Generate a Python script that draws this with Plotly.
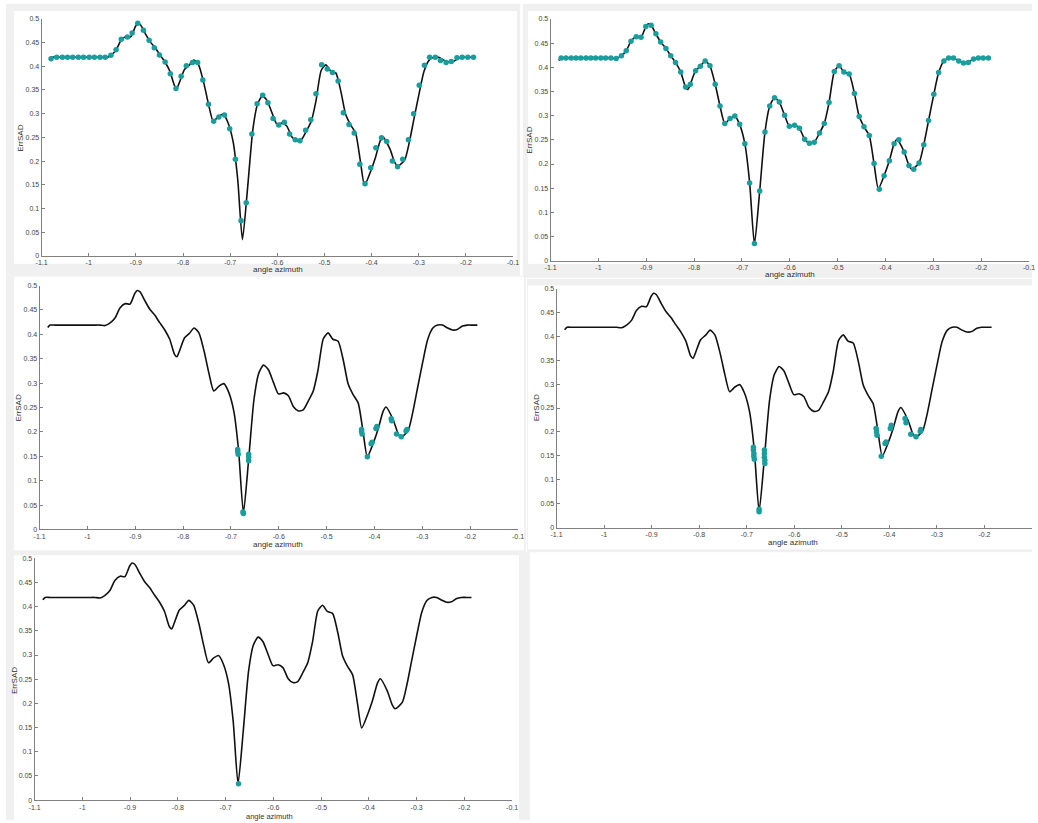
import plotly.graph_objects as go

W, H = 1038, 823

# ErrSAD curve vs angle azimuth
curve_x = [-1.083, -1.078, -1.068, -1.057, -1.047, -1.037, -1.026, -1.016, -1.006, -0.995,
           -0.985, -0.974, -0.963, -0.952, -0.942, -0.932, -0.921, -0.911, -0.901, -0.896,
           -0.890, -0.880, -0.870, -0.859, -0.849, -0.839, -0.828, -0.818, -0.813, -0.808,
           -0.797, -0.787, -0.777, -0.767, -0.756, -0.746, -0.736, -0.725, -0.715, -0.705,
           -0.694, -0.684, -0.674, -0.663, -0.652, -0.642, -0.632, -0.622, -0.611, -0.601,
           -0.590, -0.580, -0.569, -0.559, -0.549, -0.538, -0.528, -0.518, -0.507, -0.497,
           -0.487, -0.476, -0.465, -0.455, -0.445, -0.434, -0.424, -0.415, -0.403, -0.392,
           -0.382, -0.376, -0.361, -0.351, -0.345, -0.330, -0.320, -0.310, -0.299, -0.289,
           -0.278, -0.268, -0.258, -0.247, -0.237, -0.227, -0.216, -0.206, -0.196, -0.185]
curve_y = [0.414, 0.419, 0.419, 0.419, 0.419, 0.419, 0.419, 0.419, 0.419, 0.419,
           0.419, 0.419, 0.418, 0.424, 0.434, 0.454, 0.463, 0.462, 0.484, 0.490,
           0.487, 0.469, 0.452, 0.439, 0.424, 0.410, 0.390, 0.359, 0.354, 0.365,
           0.393, 0.402, 0.413, 0.403, 0.365, 0.320, 0.284, 0.294, 0.299, 0.282,
           0.242, 0.161, 0.034, 0.144, 0.266, 0.320, 0.337, 0.328, 0.301, 0.278,
           0.280, 0.274, 0.251, 0.243, 0.245, 0.264, 0.284, 0.327, 0.391, 0.403,
           0.390, 0.386, 0.346, 0.298, 0.277, 0.259, 0.201, 0.149, 0.176, 0.207,
           0.242, 0.251, 0.225, 0.197, 0.189, 0.202, 0.240, 0.290, 0.344, 0.389,
           0.413, 0.419, 0.419, 0.413, 0.409, 0.410, 0.417, 0.419, 0.419, 0.419]

# panel 1 samples
p1_x = [-1.080, -1.068, -1.056, -1.045, -1.034, -1.022, -1.011, -0.999, -0.988, -0.976,
        -0.965, -0.953, -0.942, -0.931, -0.918, -0.908, -0.896, -0.884, -0.872, -0.861,
        -0.850, -0.838, -0.827, -0.815, -0.804, -0.793, -0.780, -0.769, -0.758, -0.746,
        -0.735, -0.724, -0.712, -0.701, -0.689, -0.677, -0.666, -0.654, -0.643, -0.631,
        -0.620, -0.609, -0.597, -0.585, -0.574, -0.562, -0.552, -0.540, -0.529, -0.518,
        -0.506, -0.494, -0.483, -0.471, -0.460, -0.448, -0.437, -0.425, -0.414, -0.402,
        -0.391, -0.379, -0.368, -0.356, -0.345, -0.334, -0.322, -0.311, -0.299, -0.288,
        -0.277, -0.265, -0.254, -0.242, -0.231, -0.219, -0.208, -0.196, -0.184]
p1_y = [0.416, 0.419, 0.419, 0.419, 0.419, 0.419, 0.419, 0.419, 0.419, 0.419,
        0.419, 0.423, 0.435, 0.457, 0.462, 0.470, 0.491, 0.476, 0.455, 0.439,
        0.424, 0.409, 0.384, 0.353, 0.379, 0.401, 0.408, 0.408, 0.371, 0.320,
        0.284, 0.293, 0.297, 0.268, 0.204, 0.074, 0.112, 0.257, 0.321, 0.339,
        0.323, 0.290, 0.276, 0.282, 0.257, 0.245, 0.243, 0.265, 0.287, 0.342,
        0.403, 0.394, 0.387, 0.369, 0.302, 0.277, 0.259, 0.193, 0.152, 0.186,
        0.228, 0.249, 0.241, 0.200, 0.188, 0.204, 0.245, 0.300, 0.360, 0.402,
        0.419, 0.419, 0.412, 0.408, 0.410, 0.418, 0.419, 0.419, 0.419]

# panel 2 samples
p2_x = [-1.078, -1.068, -1.057, -1.047, -1.037, -1.026, -1.016, -1.006, -0.995, -0.985,
        -0.974, -0.963, -0.952, -0.942, -0.932, -0.921, -0.911, -0.901, -0.890, -0.880,
        -0.870, -0.859, -0.849, -0.839, -0.828, -0.818, -0.808, -0.797, -0.787, -0.777,
        -0.767, -0.756, -0.746, -0.736, -0.725, -0.715, -0.705, -0.694, -0.684, -0.674,
        -0.663, -0.652, -0.642, -0.632, -0.622, -0.611, -0.601, -0.590, -0.580, -0.569,
        -0.559, -0.549, -0.538, -0.528, -0.518, -0.507, -0.497, -0.487, -0.476, -0.465,
        -0.455, -0.445, -0.434, -0.424, -0.413, -0.403, -0.392, -0.382, -0.372, -0.361,
        -0.351, -0.341, -0.330, -0.320, -0.310, -0.299, -0.289, -0.278, -0.268, -0.258,
        -0.247, -0.237, -0.227, -0.216, -0.206, -0.196, -0.185]
p2_y = [0.419, 0.419, 0.419, 0.419, 0.419, 0.419, 0.419, 0.419, 0.419, 0.419,
        0.419, 0.418, 0.424, 0.434, 0.454, 0.463, 0.462, 0.484, 0.487, 0.469,
        0.452, 0.439, 0.424, 0.410, 0.390, 0.359, 0.365, 0.393, 0.402, 0.413,
        0.403, 0.365, 0.320, 0.284, 0.294, 0.299, 0.282, 0.242, 0.161, 0.036,
        0.144, 0.266, 0.320, 0.337, 0.328, 0.301, 0.278, 0.280, 0.274, 0.251,
        0.243, 0.245, 0.264, 0.284, 0.327, 0.391, 0.403, 0.390, 0.386, 0.346,
        0.298, 0.277, 0.259, 0.201, 0.148, 0.176, 0.207, 0.242, 0.250, 0.225,
        0.197, 0.189, 0.202, 0.240, 0.290, 0.344, 0.389, 0.413, 0.419, 0.419,
        0.413, 0.409, 0.410, 0.417, 0.419, 0.419, 0.419]

# panel 3 selected points
p3_x = [-0.686, -0.686, -0.685, -0.675, -0.674, -0.663, -0.663, -0.663,
        -0.427, -0.427, -0.426, -0.415, -0.407, -0.405, -0.397, -0.395,
        -0.365, -0.364, -0.354, -0.344, -0.334, -0.332]
p3_y = [0.164, 0.160, 0.154, 0.036, 0.033, 0.154, 0.148, 0.141,
        0.205, 0.201, 0.196, 0.149, 0.176, 0.179, 0.207, 0.211,
        0.227, 0.223, 0.196, 0.190, 0.202, 0.205]

# panel 4 selected points
p4_x = [-0.686, -0.686, -0.685, -0.685, -0.684, -0.674, -0.674,
        -0.663, -0.663, -0.663, -0.662, -0.662,
        -0.428, -0.427, -0.426, -0.417, -0.409, -0.407, -0.398, -0.396,
        -0.367, -0.365, -0.355, -0.344, -0.335, -0.334]
p4_y = [0.168, 0.162, 0.155, 0.149, 0.143, 0.038, 0.033,
        0.162, 0.155, 0.147, 0.140, 0.134,
        0.207, 0.200, 0.193, 0.149, 0.176, 0.179, 0.207, 0.214,
        0.228, 0.219, 0.195, 0.190, 0.201, 0.205]

# panel 5 selected point
p5_x = [-0.673]
p5_y = [0.034]

x_ticks = [-1.1, -1.0, -0.9, -0.8, -0.7, -0.6, -0.5, -0.4, -0.3, -0.2, -0.1]
x_tick_text = ["-1.1", "-1", "-0.9", "-0.8", "-0.7", "-0.6", "-0.5", "-0.4", "-0.3", "-0.2", "-0.1"]
y_ticks = [0, 0.05, 0.1, 0.15, 0.2, 0.25, 0.3, 0.35, 0.4, 0.45, 0.5]
y_tick_text = ["0", "0.05", "0.1", "0.15", "0.2", "0.25", "0.3", "0.35", "0.4", "0.45", "0.5"]

TEAL = "#1a9d9d"
GRAY_BG = "#f0f0f0"
FONT = "Liberation Sans"

# pixel layout of the five screenshots: frame, white area, axes box, label spots
panels = [
    dict(frame=(0, 0, 520, 274), white=(8, 7, 517, 262), box=(36, 513, 15, 254),
         ylab=(15, 135), xlab=(275, 268), mx=p1_x, my=p1_y),
    dict(frame=(523, 0, 1038, 276), white=(528, 7, 1038, 262), box=(551, 1035, 15, 259),
         ylab=(530, 137), xlab=(793, 273), mx=p2_x, my=p2_y),
    dict(frame=(0, 274, 526, 555), white=(8, 275, 524, 551), box=(34, 518, 284, 530),
         ylab=(13, 407), xlab=(275, 545), mx=p3_x, my=p3_y),
    dict(frame=(527, 277, 1038, 553), white=(528, 284, 1038, 550), box=(557, 1039, 287, 528),
         ylab=(537, 407), xlab=(796, 543), mx=p4_x, my=p4_y),
    dict(frame=(0, 553, 530, 823), white=(8, 556, 519, 823), box=(29, 512, 559, 803),
         ylab=(8, 682), xlab=(267, 825), mx=p5_x, my=p5_y),
]


def px(x):
    return x / W


def py(y):
    return 1 - y / H


fig = go.Figure()
shapes, annotations = [], []

for i, p in enumerate(panels, start=1):
    sfx = "" if i == 1 else str(i)
    x0, y0, x1, y1 = p["frame"]
    shapes.append(dict(type="rect", xref="paper", yref="paper", layer="below",
                       x0=px(x0), x1=px(x1), y0=py(y1), y1=py(y0),
                       fillcolor=GRAY_BG, line_width=0))
    x0, y0, x1, y1 = p["white"]
    shapes.append(dict(type="rect", xref="paper", yref="paper", layer="below",
                       x0=px(x0), x1=px(x1), y0=py(y1), y1=py(y0),
                       fillcolor="white", line_width=0))

    bl, br, bt, bb = p["box"]
    axis_common = dict(showline=True, linecolor="#808080", linewidth=1, mirror=False,
                       ticks="inside", ticklen=3, tickcolor="#808080", tickwidth=1,
                       showgrid=False, zeroline=False,
                       tickfont=dict(family=FONT, size=7, color="#444444"))
    fig.layout["xaxis" + sfx] = dict(domain=[px(bl), min(px(br), 1)], range=[-1.1, -0.1],
                                     anchor="y" + sfx, tickvals=x_ticks, ticktext=x_tick_text,
                                     **axis_common)
    fig.layout["yaxis" + sfx] = dict(domain=[py(bb), py(bt)], range=[0, 0.5],
                                     anchor="x" + sfx, tickvals=y_ticks, ticktext=y_tick_text,
                                     **axis_common)

    fig.add_trace(go.Scatter(x=curve_x, y=curve_y, mode="lines",
                             line=dict(color="#111111", width=1.6, shape="spline", smoothing=0.6),
                             xaxis="x" + sfx, yaxis="y" + sfx, hoverinfo="skip"))
    fig.add_trace(go.Scatter(x=p["mx"], y=p["my"], mode="markers",
                             marker=dict(color=TEAL, size=5.5, line=dict(width=0)),
                             xaxis="x" + sfx, yaxis="y" + sfx))

    lx, ly = p["ylab"]
    annotations.append(dict(text="ErrSAD", x=px(lx), y=py(ly), xref="paper", yref="paper",
                            showarrow=False, textangle=-90, xanchor="center", yanchor="middle",
                            font=dict(family=FONT, size=8, color="#333333")))
    lx, ly = p["xlab"]
    annotations.append(dict(text="angle azimuth", x=px(lx), y=py(ly), xref="paper", yref="paper",
                            showarrow=False, xanchor="center",
                            yanchor="bottom" if i == 5 else "middle",
                            borderpad=0 if i == 5 else 1,
                            font=dict(family=FONT, size=7.5 if i == 5 else 8, color="#333333")))

fig.update_layout(width=W, height=H, margin=dict(l=0, r=0, t=0, b=0),
                  paper_bgcolor="white", plot_bgcolor="rgba(0,0,0,0)",
                  showlegend=False, shapes=shapes, annotations=annotations,
                  font=dict(family=FONT))

fig.write_html("out.html", config={"displayModeBar": False},
               post_script="document.body.style.margin='0';"
                           "document.body.style.overflow='hidden';")
